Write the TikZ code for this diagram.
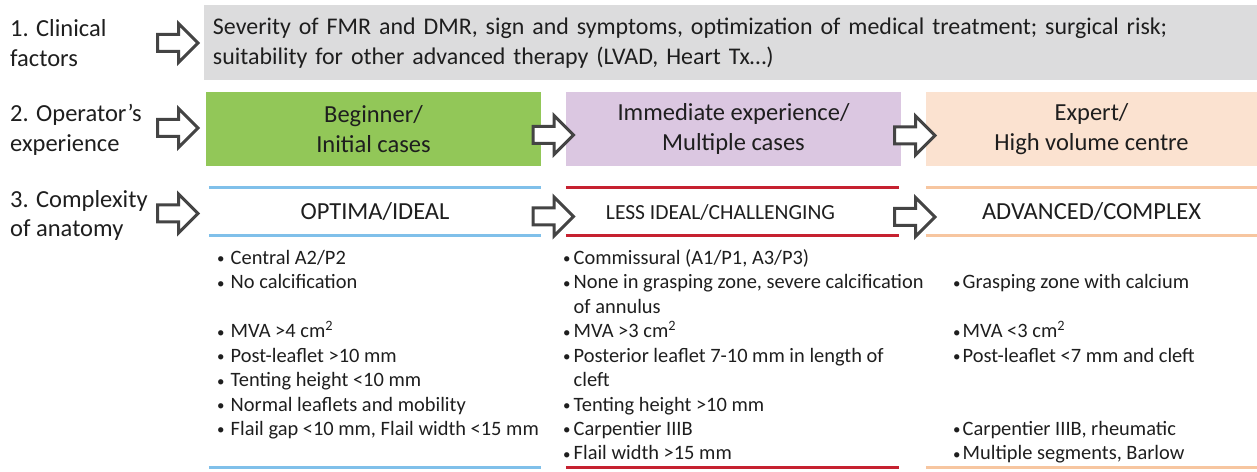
\documentclass[tikz,border=0pt]{standalone}
\usepackage{fontspec}
\setmainfont{Carlito}
\definecolor{graybox}{HTML}{DCDCDD}
\definecolor{greenbox}{HTML}{92C758}
\definecolor{lilacbox}{HTML}{DBC7E1}
\definecolor{peachbox}{HTML}{FBE2D0}
\definecolor{blueline}{HTML}{80C0EA}
\definecolor{redline}{HTML}{C62130}
\definecolor{peachline}{HTML}{F7C6A0}
\definecolor{arrowgray}{HTML}{444444}
\definecolor{ink}{HTML}{1E1E1E}
\newlength{\bulwd}
\newcommand{\bl}{\makebox[\bulwd][l]{\raisebox{0.6bp}{\fontsize{15}{15}\selectfont •}}}
\newcommand{\cont}{\hspace*{\bulwd}}
\tikzset{
  hdr/.style={font=\fontsize{24.6}{29.5}\selectfont, text=ink, align=center, inner sep=0pt},
  band/.style={hdr, minimum height=74bp},
  lvl/.style={hdr, minimum height=47.5bp},
  rule/.style={line width=3bp},
  items/.style={font=\fontsize{20.5}{24.5}\selectfont, text=ink, align=left,
    inner sep=0pt, anchor=north west, execute at begin node={\setlength{\bulwd}{#1}}},
  blockarrow/.pic={
    \draw[draw=arrowgray, fill=white, line width=3bp, miter limit=10]
      (0,-8.5) -- (21,-8.5) -- (21,-19.5) -- (40.5,0) -- (21,19.5) -- (21,8.5) -- (0,8.5) -- cycle;
  }
}
\begin{document}
\begin{tikzpicture}[x=1bp,y=-1bp]
\useasboundingbox (0,0) rectangle (1257,472);

% row titles
\node[hdr, align=left, anchor=west] (lab1) at (10,43) {1. Clinical\\factors};
\node[hdr, align=left, anchor=west] (lab2) at (10,130) {2. Operator’s\\experience};
\node[hdr, align=left, anchor=west] (lab3) at (10,215.5) {3. Complexity\\of anatomy};

% row 1: clinical factors
\node[hdr, font=\fontsize{24}{29.5}\selectfont, fill=graybox, minimum width=1053bp, minimum height=75bp,
  text width=1035bp, align=left] (clin) at (730.5,43)
  {Severity of FMR and DMR, sign and symptoms, optimization of medical treatment; surgical risk;\\
   suitability for other advanced therapy (LVAD, Heart Tx…)};

% row 2: operator's experience
\node[band, fill=greenbox, minimum width=335bp] (beg) at (373.5,129) {Beginner/\\Initial cases};
\node[band, fill=lilacbox, minimum width=335bp] (imm) at (733.5,129) {Immediate experience/\\Multiple cases};
\node[band, fill=peachbox, minimum width=331bp] (exp) at (1091.5,129) {Expert/\\High volume centre};

% row 3: complexity of anatomy
\node[lvl, minimum width=332bp] (opt) at (375,211.75) {OPTIMA/IDEAL};
\node[lvl, minimum width=333bp] (les) at (732.5,211.75) {};
\node[hdr, font=\fontsize{21.6}{29.5}\selectfont] (lestxt) at (720.5,212) {LESS IDEAL/CHALLENGING};
\node[lvl, minimum width=331bp] (adv) at (1091.5,211.75) {ADVANCED/COMPLEX};

\coordinate (foot) at (0,468);
\draw[rule, blueline] (opt.north west) -- (opt.north east);
\draw[rule, blueline] (opt.south west) -- (opt.south east);
\draw[rule, blueline] (opt.west |- foot) -- (opt.east |- foot);
\draw[rule, redline] (les.north west) -- (les.north east);
\draw[rule, redline] (les.south west) -- (les.south east);
\draw[rule, redline] (les.west |- foot) -- (les.east |- foot);
\draw[rule, peachline] (adv.north west) -- (adv.north east);
\draw[rule, peachline] (adv.south west) -- (adv.south east);
\draw[rule, peachline] (adv.west |- foot) -- (adv.east |- foot);

% anatomical criteria
\node[items=13.5bp] (crit1) at (217,247.3) {%
  \strut\bl Central A2/P2\\
  \bl No calcification\\
  \strut\\
  \bl MVA >4 cm\textsuperscript{2}\\
  \bl Post-leaflet >10 mm\\
  \bl Tenting height <10 mm\\
  \bl Normal leaflets and mobility\\
  \bl Flail gap <10 mm, Flail width <15 mm};
\node[items=10.5bp] (crit2) at (563,247.3) {%
  \strut\bl Commissural (A1/P1, A3/P3)\\
  \bl None in grasping zone, severe calcification\\
  \cont of annulus\\
  \bl MVA >3 cm\textsuperscript{2}\\
  \bl Posterior leaflet 7-10 mm in length of\\
  \cont cleft\\
  \bl Tenting height >10 mm\\
  \bl Carpentier IIIB\\
  \bl Flail width >15 mm};
\node[items=9.5bp] (crit3) at (953,247.3) {%
  \strut\\
  \bl Grasping zone with calcium\\
  \strut\\
  \bl MVA <3 cm\textsuperscript{2}\\
  \bl Post-leaflet <7 mm and cleft\\
  \strut\\
  \strut\\
  \bl Carpentier IIIB, rheumatic\\
  \bl Multiple segments, Barlow};

% block arrows
\pic at (157.5,43) {blockarrow};
\pic at (157.5,128) {blockarrow};
\pic at (157.5,213.5) {blockarrow};
\pic at (533,135) {blockarrow};
\pic at (894.5,135.5) {blockarrow};
\pic at (533,216.5) {blockarrow};
\pic at (894.5,217) {blockarrow};
\end{tikzpicture}
\end{document}
